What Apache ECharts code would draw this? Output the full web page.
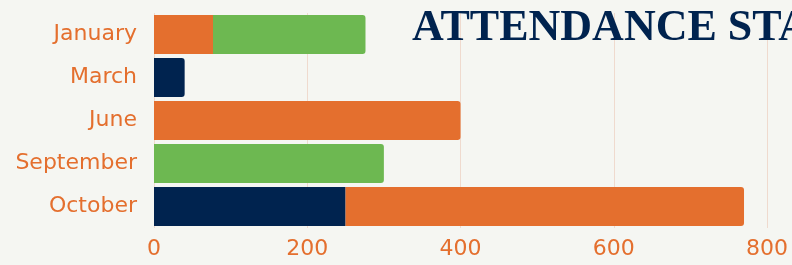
<!DOCTYPE html>
<html>
<head>
<meta charset="utf-8">
<script src="https://cdn.jsdelivr.net/npm/echarts@6/dist/echarts.min.js"></script>
<style>
html,body{margin:0;padding:0;background:#f5f6f2;}
#chart{width:792px;height:265px;}
</style>
</head>
<body>
<div id="chart"></div>
<script>
var titleText = 'ATTENDANCE STATISTICS';
var categories = ['January', 'March', 'June', 'September', 'October'];
var seriesNames = ['Absent', 'Late', 'Present'];
var navyValues = [0, 40, 0, 0, 250];
var orangeValues = [77, 0, 400, 0, 520];
var greenValues = [199, 0, 0, 300, 0];
var xTicks = [0, 200, 400, 600, 800];

var colors = ['#00234f', '#e46f2e', '#6db851'];
var allValues = [navyValues, orangeValues, greenValues];

function buildData(si) {
  return allValues[si].map(function (v, ci) {
    var isTop = true;
    for (var k = si + 1; k < allValues.length; k++) {
      if (allValues[k][ci] > 0) isTop = false;
    }
    return {
      value: v,
      itemStyle: { borderRadius: isTop ? [0, 3, 3, 0] : 0 }
    };
  });
}

var chart = echarts.init(document.getElementById('chart'));
chart.setOption({
  backgroundColor: '#f5f6f2',
  animation: false,
  title: {
    text: titleText,
    left: 407,
    top: 2,
    textStyle: {
      fontFamily: 'Liberation Serif',
      fontWeight: 'bold',
      fontSize: 44,
      color: '#00234f'
    }
  },
  grid: { left: 154, right: 25, top: 13, bottom: 37, containLabel: false },
  xAxis: {
    type: 'value',
    min: xTicks[0],
    max: xTicks[xTicks.length - 1],
    interval: xTicks[1] - xTicks[0],
    axisLine: { show: false },
    axisTick: { show: false },
    splitLine: { show: true, lineStyle: { color: '#efdace', width: 1 } },
    axisLabel: {
      color: '#e46f2e',
      fontFamily: 'DejaVu Sans',
      fontSize: 22,
      margin: 10
    }
  },
  yAxis: {
    type: 'category',
    data: categories,
    inverse: true,
    axisLine: { show: false },
    axisTick: { show: false },
    axisLabel: {
      color: '#e46f2e',
      fontFamily: 'DejaVu Sans',
      fontSize: 22,
      margin: 17
    }
  },
  series: seriesNames.map(function (name, i) {
    return {
      name: name,
      type: 'bar',
      stack: 'total',
      barWidth: 39,
      itemStyle: { color: colors[i] },
      data: buildData(i)
    };
  })
});
</script>
</body>
</html>
